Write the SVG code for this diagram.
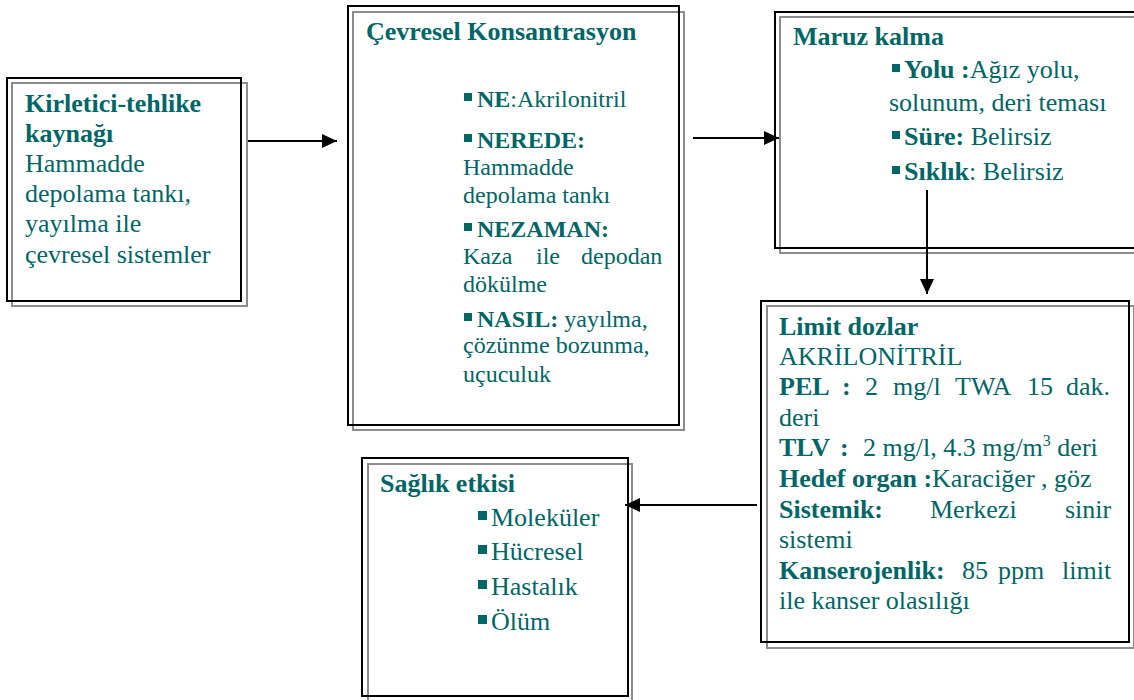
<svg xmlns="http://www.w3.org/2000/svg" width="1134" height="700" viewBox="0 0 1134 700">
<style>
.outer{fill:none;stroke:#000;stroke-width:2}
.inner{fill:none;stroke:#8c8c8c;stroke-width:2}
text{font-family:"Liberation Serif","Times New Roman",serif;fill:#006666;font-size:26px}
.s24{font-size:24px}
.b{font-weight:bold}
.blt{fill:#006666}
.conn{stroke:#000;stroke-width:2;fill:none}
</style>
<defs>
<marker id="ah" markerUnits="userSpaceOnUse" markerWidth="16" markerHeight="14" refX="15" refY="7" orient="auto">
<path d="M0,0 L15,7 L0,14 z" fill="#000"/>
</marker>
</defs>
<rect width="1134" height="700" fill="#fff"/>

<g id="node-source">
<rect class="inner" x="12" y="83" width="235" height="223"/>
<rect class="outer" x="7" y="78" width="234" height="223"/>
<text x="25" y="112" class="b">Kirletici-tehlike</text>
<text x="25" y="142" class="b">kaynağı</text>
<text x="25" y="172">Hammadde</text>
<text x="25" y="202">depolama tankı,</text>
<text x="25" y="232">yayılma ile</text>
<text x="25" y="263">çevresel sistemler</text>
</g>

<g id="node-concentration">
<rect class="inner" x="353" y="12" width="331" height="418"/>
<rect class="outer" x="348" y="6" width="331" height="419"/>
<text x="366" y="40" class="b">Çevresel Konsantrasyon</text>
<rect class="blt" x="464" y="93" width="8" height="8"/>
<text x="477" y="107" class="s24"><tspan class="b">NE</tspan>:Akrilonitril</text>
<rect class="blt" x="464" y="134" width="8" height="8"/>
<text x="477" y="148" class="s24 b">NEREDE:</text>
<text x="463" y="175" class="s24">Hammadde</text>
<text x="463" y="203" class="s24">depolama tankı</text>
<rect class="blt" x="464" y="223" width="8" height="8"/>
<text x="477" y="237" class="s24 b">NEZAMAN:</text>
<text y="264" class="s24"><tspan x="463">Kaza</tspan><tspan x="536">ile</tspan><tspan x="581">depodan</tspan></text>
<text x="463" y="292" class="s24">dökülme</text>
<rect class="blt" x="464" y="313" width="8" height="8"/>
<text x="477" y="327" class="s24"><tspan class="b">NASIL:</tspan> yayılma,</text>
<text x="463" y="353" class="s24">çözünme bozunma,</text>
<text x="463" y="382" class="s24">uçuculuk</text>
</g>

<g id="node-exposure">
<rect class="inner" x="780" y="17" width="370" height="236"/>
<rect class="outer" x="775" y="12" width="370" height="236"/>
<text x="793" y="45" class="b">Maruz kalma</text>
<rect class="blt" x="892" y="64" width="8" height="8"/>
<text x="904" y="78"><tspan class="b">Yolu :</tspan>Ağız yolu,</text>
<text x="889" y="111">solunum, deri teması</text>
<rect class="blt" x="892" y="131" width="8" height="8"/>
<text x="904" y="145"><tspan class="b">Süre:</tspan> Belirsiz</text>
<rect class="blt" x="892" y="166" width="8" height="8"/>
<text x="904" y="180"><tspan class="b">Sıklık</tspan>: Belirsiz</text>
</g>

<g id="node-limits">
<rect class="inner" x="767" y="306" width="367" height="342"/>
<rect class="outer" x="761" y="301" width="368" height="341"/>
<text x="779" y="335" class="b">Limit dozlar</text>
<text x="779" y="365">AKRİLONİTRİL</text>
<text y="395"><tspan x="779" class="b">PEL</tspan><tspan x="842" class="b">:</tspan><tspan x="865">2</tspan><tspan x="893">mg/l</tspan><tspan x="955">TWA</tspan><tspan x="1027">15</tspan><tspan x="1066">dak.</tspan></text>
<text x="779" y="426">deri</text>
<text y="456"><tspan x="779" class="b">TLV</tspan><tspan x="840" class="b">:</tspan><tspan x="863">2 mg/l, 4.3 mg/m</tspan><tspan dy="-10" font-size="16">3</tspan><tspan dy="10"> deri</tspan></text>
<text x="779" y="487"><tspan class="b">Hedef organ :</tspan>Karaciğer , göz</text>
<text y="518"><tspan x="779" class="b">Sistemik:</tspan><tspan x="930">Merkezi</tspan><tspan x="1065">sinir</tspan></text>
<text x="779" y="548">sistemi</text>
<text y="579"><tspan x="779" class="b">Kanserojenlik:</tspan><tspan x="962">85</tspan><tspan x="998">ppm</tspan><tspan x="1062">limit</tspan></text>
<text x="779" y="609">ile kanser olasılığı</text>
</g>

<g id="node-health">
<rect class="inner" x="368" y="464" width="264" height="238"/>
<rect class="outer" x="362" y="458" width="266" height="238"/>
<text x="380" y="492" class="b">Sağlık etkisi</text>
<rect class="blt" x="478" y="511" width="9" height="9"/>
<text x="491" y="526">Moleküler</text>
<rect class="blt" x="478" y="545" width="9" height="9"/>
<text x="491" y="560">Hücresel</text>
<rect class="blt" x="478" y="580" width="9" height="9"/>
<text x="491" y="595">Hastalık</text>
<rect class="blt" x="478" y="615" width="9" height="9"/>
<text x="491" y="630">Ölüm</text>
</g>

<g id="connectors">
<line class="conn" x1="248" y1="141" x2="337" y2="141" marker-end="url(#ah)"/>
<line class="conn" x1="693" y1="138" x2="779" y2="138" marker-end="url(#ah)"/>
<line class="conn" x1="927" y1="190" x2="927" y2="294" marker-end="url(#ah)"/>
<line class="conn" x1="757" y1="505" x2="625" y2="505" marker-end="url(#ah)"/>
</g>
</svg>
